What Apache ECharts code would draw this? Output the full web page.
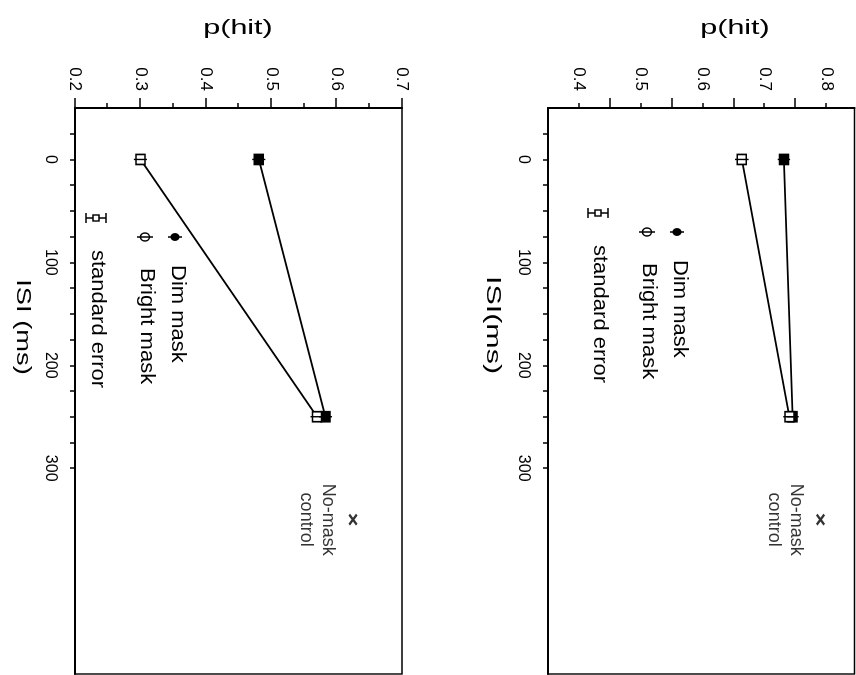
<!DOCTYPE html>
<html>
<head>
<meta charset="utf-8">
<script src="https://cdn.jsdelivr.net/npm/echarts@6/dist/echarts.min.js"></script>
<style>
  html, body { margin: 0; padding: 0; background: #fff; overflow: hidden; width: 856px; height: 675px; }
  /* the figure is laid out upright, then turned a quarter turn clockwise onto the page */
  #chart { position: absolute; left: 0; top: 0; width: 675px; height: 856px;
           transform-origin: 0 0; transform: translateX(856px) rotate(90deg); }
</style>
</head>
<body>
<div id="chart"></div>
<script>
// Hit probability versus inter-stimulus interval (ISI), two experiments.
const isiValues = [0, 250];

// Experiment 1 (upper panel)
const dimMask1 = [0.731, 0.745];
const brightMask1 = [0.663, 0.740];
const dimErr1 = [0.010, 0.010];
const brightErr1 = [0.011, 0.010];
const noMask1 = 0.79;

// Experiment 2 (lower panel)
const dimMask2 = [0.481, 0.583];
const brightMask2 = [0.300, 0.570];
const dimErr2 = [0.010, 0.010];
const brightErr2 = [0.010, 0.010];
const noMask2 = 0.625;

// the no-mask control is plotted off to the side of the ISI range
const noMaskIsi = 350;

// axis ticks and labels
const isiTickValues = [-25, 0, 25, 50, 75, 100, 125, 150, 175, 200, 225, 250, 275, 300];
const isiLabelValues = [0, 100, 200, 300];
const pLabels1 = [0.4, 0.5, 0.6, 0.7, 0.8];
const pMidTicks1 = [0.45, 0.55, 0.65, 0.75];
const pLabels2 = [0.2, 0.3, 0.4, 0.5, 0.6, 0.7];
const pMidTicks2 = [0.25, 0.35, 0.45, 0.55, 0.65];

const FONT = "'Liberation Sans', Arial, Helvetica, sans-serif";
const chart = echarts.init(document.getElementById('chart'));

function isiAxis(gridIndex) {
  return {
    type: 'value', gridIndex, min: -50, max: 500,
    splitLine: { show: false },
    axisLine: { onZero: false, lineStyle: { color: '#000', width: 2 } },
    axisTick: { customValues: isiTickValues, length: 5, lineStyle: { color: '#000', width: 1.5 } },
    axisLabel: { customValues: isiLabelValues, margin: 17, color: '#000', fontSize: 16, fontFamily: FONT }
  };
}
function pAxis(gridIndex, min, max, labels, tickLen) {
  return {
    type: 'value', gridIndex, min, max, position: 'left',
    splitLine: { show: false },
    axisLine: { onZero: false, lineStyle: { color: '#000', width: 2 } },
    axisTick: { customValues: labels, length: tickLen, lineStyle: { color: '#000', width: 1.5 } },
    axisLabel: { customValues: labels, margin: 17, color: '#000', fontSize: 17, fontFamily: FONT,
                 formatter: v => v.toFixed(1) }
  };
}
function pMidAxis(gridIndex, min, max, ticks, tickLen) {
  return {
    type: 'value', gridIndex, min, max, position: 'left',
    splitLine: { show: false },
    axisLine: { show: false, onZero: false },
    axisTick: { show: true, customValues: ticks, length: tickLen, lineStyle: { color: '#000', width: 1.5 } },
    axisLabel: { show: false }
  };
}

function pairs(ys) { return isiValues.map((x, i) => [x, ys[i]]); }
function errRows(ys, errs) { return isiValues.map((x, i) => [x, ys[i], errs[i]]); }

function panelSeries(xi, yi, dim, bright, dimErr, brightErr, control) {
  const line = (name, ys, fill) => ({
    name, type: 'line', xAxisIndex: xi, yAxisIndex: yi, data: pairs(ys),
    symbol: 'rect', symbolSize: [10, 9], z: 3,
    lineStyle: { color: '#000', width: 1.8 },
    itemStyle: { color: fill, borderColor: '#000', borderWidth: 1.6 },
    emphasis: { disabled: true }, animation: false
  });
  const errors = {
    type: 'custom', xAxisIndex: xi, yAxisIndex: yi, z: 6, animation: false,
    data: errRows(dim, dimErr).concat(errRows(bright, brightErr)),
    renderItem: (params, api) => {
      const x = api.value(0), y = api.value(1), e = api.value(2);
      const lo = api.coord([x, y - e]), hi = api.coord([x, y + e]);
      return { type: 'line', shape: { x1: lo[0], y1: lo[1], x2: hi[0], y2: hi[1] },
               style: { stroke: '#000', lineWidth: 1.4 } };
    }
  };
  const ctrl = {
    type: 'scatter', xAxisIndex: xi, yAxisIndex: yi, data: [[noMaskIsi, control]],
    symbol: 'path://M0,1.6L1.6,0L5,3.4L8.4,0L10,1.6L6.6,5L10,8.4L8.4,10L5,6.6L1.6,10L0,8.4L3.4,5Z',
    symbolSize: [12, 9], itemStyle: { color: '#000' }, animation: false,
    label: { show: true, position: 'bottom', distance: 9, formatter: 'No-mask\ncontrol',
             color: '#000', fontSize: 18, lineHeight: 22, fontFamily: FONT, align: 'center' }
  };
  return [line('Dim mask', dim, '#000'), line('Bright mask', bright, '#fff'), errors, ctrl];
}

// upright titles and legend drawn in the panel's own frame
function text(t, x, y, size, opts) {
  return Object.assign({
    type: 'text', x, y, z: 10,
    style: { text: t, x: 0, y: 0, fill: '#000', font: 'normal ' + size + 'px ' + FONT,
             align: 'left', verticalAlign: 'middle' }
  }, opts || {});
}
function title(t, x, y, rot, s) {
  const el = text(t, x, y, 21, { rotation: rot, scaleX: s });
  el.style.align = 'center';
  return el;
}
function legend(ox, oy) {
  // ox, oy: icon column and top row of the legend block
  const els = [];
  // Dim mask: filled marker on a short error bar
  els.push({ type: 'group', x: ox, y: oy, z: 10, children: [
    { type: 'line', shape: { x1: 0, y1: -7, x2: 0, y2: 7 }, style: { stroke: '#000', lineWidth: 1.5 } },
    { type: 'ellipse', shape: { cx: 0, cy: 0, rx: 4, ry: 4.5 }, style: { fill: '#000' } }
  ]});
  els.push(text('Dim mask', ox + 28, oy - 3, 20, { scaleX: 1.1 }));
  // Bright mask: open marker on a short error bar
  els.push({ type: 'group', x: ox, y: oy + 30, z: 10, children: [
    { type: 'ellipse', shape: { cx: 0, cy: 0, rx: 4, ry: 4.5 }, style: { fill: '#fff', stroke: '#000', lineWidth: 1.5 } },
    { type: 'line', shape: { x1: 0, y1: -8, x2: 0, y2: 8 }, style: { stroke: '#000', lineWidth: 1.5 } }
  ]});
  els.push(text('Bright mask', ox + 31, oy + 28, 20, { scaleX: 1.1 }));
  // standard error key
  els.push({ type: 'group', x: ox - 19, y: oy + 79, z: 10, children: [
    { type: 'line', shape: { x1: 0, y1: -10, x2: 0, y2: 10 }, style: { stroke: '#000', lineWidth: 1.5 } },
    { type: 'line', shape: { x1: -5, y1: -10, x2: 5, y2: -10 }, style: { stroke: '#000', lineWidth: 1.5 } },
    { type: 'line', shape: { x1: -5, y1: 10, x2: 5, y2: 10 }, style: { stroke: '#000', lineWidth: 1.5 } },
    { type: 'rect', shape: { x: -3, y: -3, width: 6, height: 6 }, style: { fill: '#fff', stroke: '#000', lineWidth: 1.4 } }
  ]});
  els.push(text('standard error', ox + 13, oy + 77, 20, { scaleX: 1.1 }));
  return els;
}

const option = {
  backgroundColor: '#fff',
  animation: false,
  grid: [
    { left: 108, right: 1, top: 1.5, height: 306.5, show: true, borderColor: '#000', borderWidth: 1.4, containLabel: false },
    { left: 108, right: 1, top: 454, height: 327, show: true, borderColor: '#000', borderWidth: 1.4, containLabel: false }
  ],
  xAxis: [isiAxis(0), isiAxis(1)],
  yAxis: [
    pAxis(0, 0.35, 0.845, pLabels1, 5),
    pMidAxis(0, 0.35, 0.845, pMidTicks1, 10),
    pAxis(1, 0.2, 0.7, pLabels2, 10),
    pMidAxis(1, 0.2, 0.7, pMidTicks2, 5)
  ],
  series: [].concat(
    panelSeries(0, 0, dimMask1, brightMask1, dimErr1, brightErr1, noMask1),
    panelSeries(1, 2, dimMask2, brightMask2, dimErr2, brightErr2, noMask2)
  ),
  graphic: [].concat(
    [title('p(hit)', 28, 121, Math.PI / 2, 1.45),
     title('p(hit)', 28, 618, Math.PI / 2, 1.45),
     title('ISI(ms)', 325, 363, 0, 1.45),
     title('ISI (ms)', 327, 833, 0, 1.3)],
    legend(232, 179),
    legend(237, 681)
  )
};
chart.setOption(option);
</script>
</body>
</html>
